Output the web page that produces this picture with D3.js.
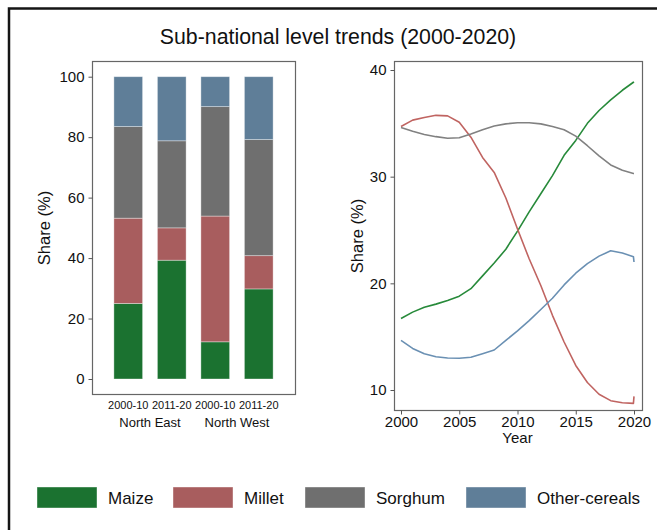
<!DOCTYPE html>
<html>
<head>
<meta charset="utf-8">
<script src="https://cdn.jsdelivr.net/npm/d3@7"></script>
<style>
  html, body { margin: 0; padding: 0; background: #fff; }
  svg { display: block; font-family: "Liberation Sans", Arial, Helvetica, sans-serif; }
</style>
</head>
<body>
<svg id="chart" width="657" height="530"></svg>
<script>
// ---- Data -------------------------------------------------------------
const crops = ["Maize", "Millet", "Sorghum", "Other-cereals"];

// Stacked shares by region and period (%)
const periods = ["2000-10", "2011-20", "2000-10", "2011-20"];
const regions = ["North East", "North West"];
const maizeShare   = [25.0, 39.3, 12.3, 29.8];
const milletShare  = [28.2, 10.7, 41.6, 11.0];
const sorghumShare = [30.3, 28.8, 36.2, 38.4];
const otherShare   = [16.5, 21.2,  9.9, 20.8];

// National trend shares by year (%)
const years        = [2000, 2001, 2002, 2003, 2004, 2005, 2006, 2007, 2008, 2009, 2010,
                      2011, 2012, 2013, 2014, 2015, 2016, 2017, 2018, 2019, 2019.95, 2020];
const maizeTrend   = [16.7, 17.3, 17.75, 18.05, 18.4, 18.8, 19.5, 20.7, 21.9, 23.2, 24.9,
                      26.7, 28.4, 30.1, 32.0, 33.4, 35.0, 36.2, 37.2, 38.1, 38.85, 38.9];
const milletTrend  = [34.7, 35.3, 35.55, 35.75, 35.7, 35.1, 33.7, 31.8, 30.4, 28.0, 25.1,
                      22.3, 19.8, 17.0, 14.5, 12.3, 10.7, 9.6, 9.0, 8.8, 8.75, 9.4];
const sorghumTrend = [34.6, 34.25, 33.95, 33.75, 33.6, 33.65, 34.0, 34.4, 34.75, 34.95, 35.05,
                      35.05, 34.95, 34.7, 34.4, 33.8, 32.9, 31.95, 31.1, 30.6, 30.3, 30.3];
const otherTrend   = [14.65, 13.9, 13.4, 13.12, 13.0, 12.97, 13.07, 13.4, 13.75, 14.65, 15.55,
                      16.5, 17.55, 18.6, 19.85, 20.95, 21.85, 22.55, 23.05, 22.85, 22.5, 22.0];

const yTicksBar  = [0, 20, 40, 60, 80, 100];
const yTicksLine = [10, 20, 30, 40];
const xTicksLine = [2000, 2005, 2010, 2015, 2020];

// ---- Styling ----------------------------------------------------------
const barColors  = ["#1b7230", "#a85d5e", "#6f6f6f", "#5f7e98"];
const lineColors = ["#278a3a", "#c06461", "#818181", "#6a90b3"];

const svg = d3.select("#chart");

// Outer frame
svg.append("rect")
  .attr("x", 9).attr("y", 8.5)
  .attr("width", 700).attr("height", 560)
  .attr("fill", "none").attr("stroke", "#151515").attr("stroke-width", 2.5);

// Title
svg.append("text")
  .attr("x", 338).attr("y", 44)
  .attr("text-anchor", "middle")
  .attr("font-size", 21.3).attr("fill", "#111")
  .text("Sub-national level trends (2000-2020)");

// ---- Left panel: stacked bars -----------------------------------------
const L = { x0: 92, x1: 295, y0: 61, y1: 394 };

const xBand = d3.scaleBand()
  .domain(d3.range(periods.length))
  .range([106.5, 280.5])
  .paddingInner(0.34)
  .paddingOuter(0.17);

const yBar = d3.scaleLinear().domain([0, 100]).range([379, 76.7]);

const barRows = periods.map((p, i) => ({
  idx: i,
  "Maize": maizeShare[i],
  "Millet": milletShare[i],
  "Sorghum": sorghumShare[i],
  "Other-cereals": otherShare[i]
}));
const stacked = d3.stack().keys(crops)(barRows);

const gBars = svg.append("g");
gBars.selectAll("g.layer")
  .data(stacked)
  .join("g")
  .attr("class", "layer")
  .attr("fill", (d, i) => barColors[i])
  .selectAll("rect")
  .data(d => d)
  .join("rect")
  .attr("x", d => xBand(d.data.idx))
  .attr("width", xBand.bandwidth())
  .attr("y", d => yBar(d[1]))
  .attr("height", d => yBar(d[0]) - yBar(d[1]))
  .attr("stroke", "rgba(255,255,255,0.45)")
  .attr("stroke-width", 0.8);

svg.append("rect")
  .attr("x", L.x0 + 0.5).attr("y", L.y0 + 0.5)
  .attr("width", L.x1 - L.x0).attr("height", L.y1 - L.y0)
  .attr("fill", "none").attr("stroke", "#666").attr("stroke-width", 1.2);

const yAxisBar = d3.axisLeft(yBar).tickValues(yTicksBar).tickSize(4).tickPadding(4);
const gyb = svg.append("g").attr("transform", `translate(${L.x0 + 0.5},0)`).call(yAxisBar);
gyb.select(".domain").remove();
gyb.selectAll(".tick line").attr("stroke", "#555");
gyb.selectAll(".tick text").attr("font-size", 15).attr("fill", "#111")
  .attr("font-family", "Liberation Sans, Arial, sans-serif");

svg.append("text")
  .attr("transform", "translate(50,228) rotate(-90)")
  .attr("text-anchor", "middle")
  .attr("font-size", 16.5).attr("fill", "#111")
  .text("Share (%)");

// Period labels under each bar
svg.append("g").selectAll("text")
  .data(periods)
  .join("text")
  .attr("x", (d, i) => xBand(i) + xBand.bandwidth() / 2)
  .attr("y", 409)
  .attr("text-anchor", "middle")
  .attr("font-size", 11).attr("fill", "#111")
  .text(d => d);

// Region labels, centered under each pair of bars
svg.append("g").selectAll("text")
  .data(regions)
  .join("text")
  .attr("x", (d, i) => (xBand(2 * i) + xBand(2 * i + 1) + xBand.bandwidth()) / 2)
  .attr("y", 427)
  .attr("text-anchor", "middle")
  .attr("font-size", 13).attr("fill", "#111")
  .text(d => d);

// ---- Right panel: trend lines -----------------------------------------
const R = { x0: 394, x1: 642, y0: 61, y1: 410 };

const xYear = d3.scaleLinear().domain([2000, 2020]).range([401, 634]);
const yLine = d3.scaleLinear().domain([10, 40]).range([390, 70]);

const trends = [maizeTrend, milletTrend, sorghumTrend, otherTrend];
const line = d3.line()
  .x((d, i) => xYear(years[i]))
  .y(d => yLine(d));

svg.append("g").selectAll("path")
  .data(trends)
  .join("path")
  .attr("d", d => line(d))
  .attr("fill", "none")
  .attr("stroke", (d, i) => lineColors[i])
  .attr("stroke-width", 1.6)
  .attr("stroke-linejoin", "round");

svg.append("rect")
  .attr("x", R.x0 + 0.5).attr("y", R.y0 + 0.5)
  .attr("width", R.x1 - R.x0).attr("height", R.y1 - R.y0)
  .attr("fill", "none").attr("stroke", "#666").attr("stroke-width", 1.2);

const yAxisLine = d3.axisLeft(yLine).tickValues(yTicksLine).tickSize(4).tickPadding(4);
const gyl = svg.append("g").attr("transform", `translate(${R.x0 + 0.5},0)`).call(yAxisLine);
gyl.select(".domain").remove();
gyl.selectAll(".tick line").attr("stroke", "#555");
gyl.selectAll(".tick text").attr("font-size", 15).attr("fill", "#111")
  .attr("font-family", "Liberation Sans, Arial, sans-serif");

const xAxisLine = d3.axisBottom(xYear).tickValues(xTicksLine).tickFormat(d3.format("d"))
  .tickSize(4).tickPadding(2);
const gxl = svg.append("g").attr("transform", `translate(0,${R.y1 + 0.5})`).call(xAxisLine);
gxl.select(".domain").remove();
gxl.selectAll(".tick line").attr("stroke", "#555");
gxl.selectAll(".tick text").attr("font-size", 15).attr("fill", "#111")
  .attr("font-family", "Liberation Sans, Arial, sans-serif");

svg.append("text")
  .attr("x", (xYear(2000) + xYear(2020)) / 2).attr("y", 443)
  .attr("text-anchor", "middle")
  .attr("font-size", 15).attr("fill", "#111")
  .text("Year");

svg.append("text")
  .attr("transform", "translate(363,236) rotate(-90)")
  .attr("text-anchor", "middle")
  .attr("font-size", 16.5).attr("fill", "#111")
  .text("Share (%)");

// ---- Legend -----------------------------------------------------------
const legendX = [37, 173, 305, 466];
const legend = svg.append("g").selectAll("g")
  .data(crops)
  .join("g")
  .attr("transform", (d, i) => `translate(${legendX[i]},487)`);
legend.append("rect")
  .attr("width", 60).attr("height", 21)
  .attr("fill", (d, i) => barColors[i])
  .attr("stroke", "rgba(255,255,255,0.5)").attr("stroke-width", 0.8);
legend.append("text")
  .attr("x", 71).attr("y", 16.5)
  .attr("font-size", 17).attr("fill", "#111")
  .text(d => d);
</script>
</body>
</html>
